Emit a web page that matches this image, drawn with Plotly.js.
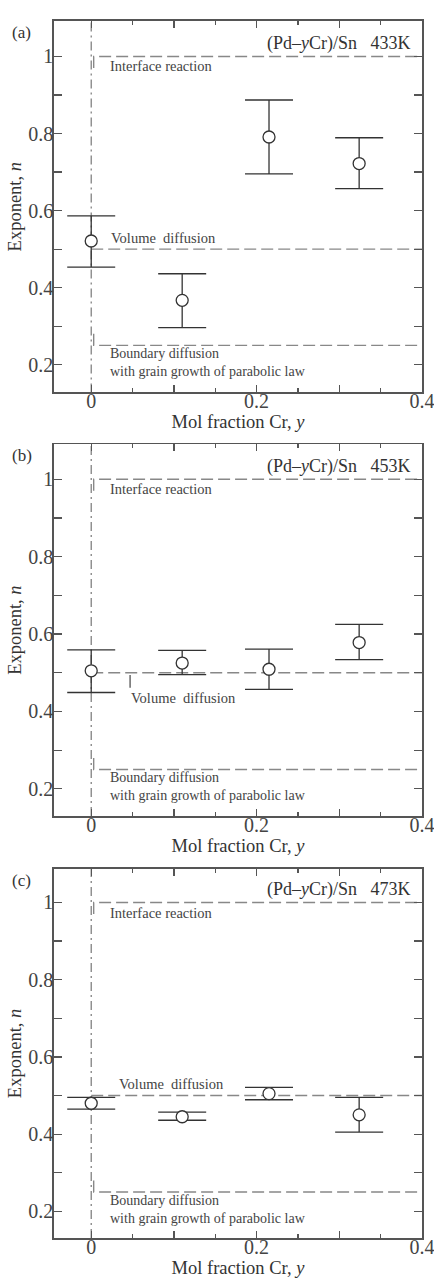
<!DOCTYPE html>
<html><head><meta charset="utf-8">
<script src="https://cdn.plot.ly/plotly-3.0.1.min.js"></script>
<style>html,body{margin:0;padding:0;background:#fff;}#plot{width:434px;height:1282px;}</style>
</head><body><div id="plot"></div>
<script>
// ---- data ----
const molFraction = [0, 0.11, 0.215, 0.324];
const panelLabels = ['(a)', '(b)', '(c)'];
const temperatures = ['433K', '453K', '473K'];
const exponentA = [0.521, 0.367, 0.791, 0.722];
const upperA    = [0.586, 0.436, 0.887, 0.789];
const lowerA    = [0.453, 0.296, 0.695, 0.657];
const exponentB = [0.505, 0.525, 0.509, 0.578];
const upperB    = [0.559, 0.558, 0.561, 0.625];
const lowerB    = [0.449, 0.495, 0.457, 0.534];
const exponentC = [0.480, 0.445, 0.505, 0.450];
const upperC    = [0.495, 0.457, 0.521, 0.495];
const lowerC    = [0.465, 0.436, 0.489, 0.405];
const mechanismLevels = [1.0, 0.5, 0.25];
const xTickVals = [0, 0.1, 0.2, 0.3, 0.4];
const xTickText = ['0', '', '0.2', '', '0.4'];
const yTickVals = [0.2, 0.3, 0.4, 0.5, 0.6, 0.7, 0.8, 0.9, 1.0];
const yTickText = ['0.2', '', '0.4', '', '0.6', '', '0.8', '', '1'];

const panels = [
  {n: exponentA, hi: upperA, lo: lowerA, yr: [0.128, 1.092], dom: [0.6948, 1], vol: {x: 0.022, y: 0.528}},
  {n: exponentB, hi: upperB, lo: lowerB, yr: [0.130, 1.090], dom: [0.3468, 0.6521], vol: {x: 0.046, y: 0.434}, leader: [0.047, 0.461, 0.494]},
  {n: exponentC, hi: upperC, lo: lowerC, yr: [0.131, 1.087], dom: [0, 0.3033], vol: {x: 0.031, y: 0.530}}
];

const FONT = '"Liberation Serif", "Times New Roman", serif';
const traces = [];
const layout = {
  width: 434, height: 1282,
  margin: {l: 54, r: 12.3, t: 20.7, b: 43.7},
  paper_bgcolor: '#fff', plot_bgcolor: '#fff',
  showlegend: false,
  font: {family: FONT, color: '#444'},
  annotations: [], shapes: []
};

panels.forEach((p, i) => {
  const k = i === 0 ? '' : String(i + 1);
  const xa = 'x' + k, ya = 'y' + k;
  // dash-dot vertical at x = 0
  traces.push({x: [0, 0], y: [p.yr[0], p.yr[1]], xaxis: xa, yaxis: ya, mode: 'lines',
    line: {color: '#777', width: 1.2, dash: '9px,4px,2px,4px'}, hoverinfo: 'skip'});
  // mechanism dashed lines
  mechanismLevels.forEach((lv, j) => {
    const stub = j === 0 ? lv - 0.03 : (j === 2 ? lv + 0.03 : lv);
    const xs = j === 1 ? [0, 0.4] : [0.003, 0.003, 0.4];
    const ys = j === 1 ? [lv, lv] : [stub, lv, lv];
    traces.push({x: xs, y: ys, xaxis: xa, yaxis: ya, mode: 'lines',
      line: {color: '#888', width: 1.4, dash: '12px,5px'}, hoverinfo: 'skip'});
  });
  if (p.leader) {
    traces.push({x: [p.leader[0], p.leader[0]], y: [p.leader[1], p.leader[2]], xaxis: xa, yaxis: ya,
      mode: 'lines', line: {color: '#444', width: 1.2}, hoverinfo: 'skip'});
  }
  // data points with error bars
  traces.push({
    x: molFraction, y: p.n, xaxis: xa, yaxis: ya, mode: 'markers',
    marker: {symbol: 'circle', size: 12, color: '#fff', line: {color: '#333', width: 1.3}},
    error_y: {type: 'data', symmetric: false,
      array: p.hi.map((h, q) => h - p.n[q]),
      arrayminus: p.lo.map((l, q) => p.n[q] - l),
      color: '#333', thickness: 1.3, width: 24}
  });

  layout['xaxis' + k] = {
    anchor: ya, domain: [0, 1], range: [-0.045, 0.4],
    tickmode: 'array', tickvals: xTickVals, ticktext: xTickText,
    ticks: 'inside', ticklen: 7, tickwidth: 1.2, tickcolor: '#555',
    minor: {tickmode: 'linear', tick0: 0, dtick: 0.05, ticks: 'inside', ticklen: 4, tickcolor: '#555', tickwidth: 1.2},
    showline: true, linecolor: '#555', linewidth: 1.8, mirror: 'ticks',
    showgrid: false, zeroline: false,
    ticklabelstandoff: -10, ticklabeloverflow: 'allow',
    tickfont: {family: FONT, size: 20, color: '#444'},
    title: {text: 'Mol fraction Cr, <i>y</i>', font: {family: FONT, size: 18.5, color: '#333'}, standoff: 0}
  };
  layout['yaxis' + k] = {
    anchor: xa, domain: p.dom, range: p.yr,
    tickmode: 'array', tickvals: yTickVals, ticktext: yTickText,
    ticks: 'inside', ticklen: 8, tickwidth: 1.2, tickcolor: '#555',
    showline: true, linecolor: '#555', linewidth: 1.8, mirror: 'ticks',
    showgrid: false, zeroline: false,
    ticklabelstandoff: -5,
    tickfont: {family: FONT, size: 20, color: '#444'},
    title: {text: 'Exponent, <i>n</i>', font: {family: FONT, size: 18.5, color: '#333'}, standoff: 2}
  };

  const lab = (text, x, y, opts) => Object.assign({text, x, y, xref: xa, yref: ya, showarrow: false,
    font: {family: FONT, size: 14.5, color: '#444'}, xanchor: 'left', yanchor: 'middle', align: 'left'}, opts || {});
  layout.annotations.push(
    lab(panelLabels[i], -0.087, 0.9696, {xref: xa + ' domain', yref: ya + ' domain', xanchor: 'center', font: {family: FONT, size: 17, color: '#333'}}),
    lab('(Pd–<i>y</i>Cr)/Sn   ' + temperatures[i], 0.389, 1.034, {xanchor: 'right', font: {family: FONT, size: 18, color: '#333'}}),
    lab('Interface reaction', 0.0206, 0.974),
    lab('Volume  diffusion', p.vol.x, p.vol.y),
    lab('Boundary diffusion<br>with grain growth of parabolic law', 0.0206, 0.205, {font: {family: FONT, size: 14, color: '#444'}})
  );
});

Plotly.newPlot('plot', traces, layout, {staticPlot: true});
</script></body></html>
